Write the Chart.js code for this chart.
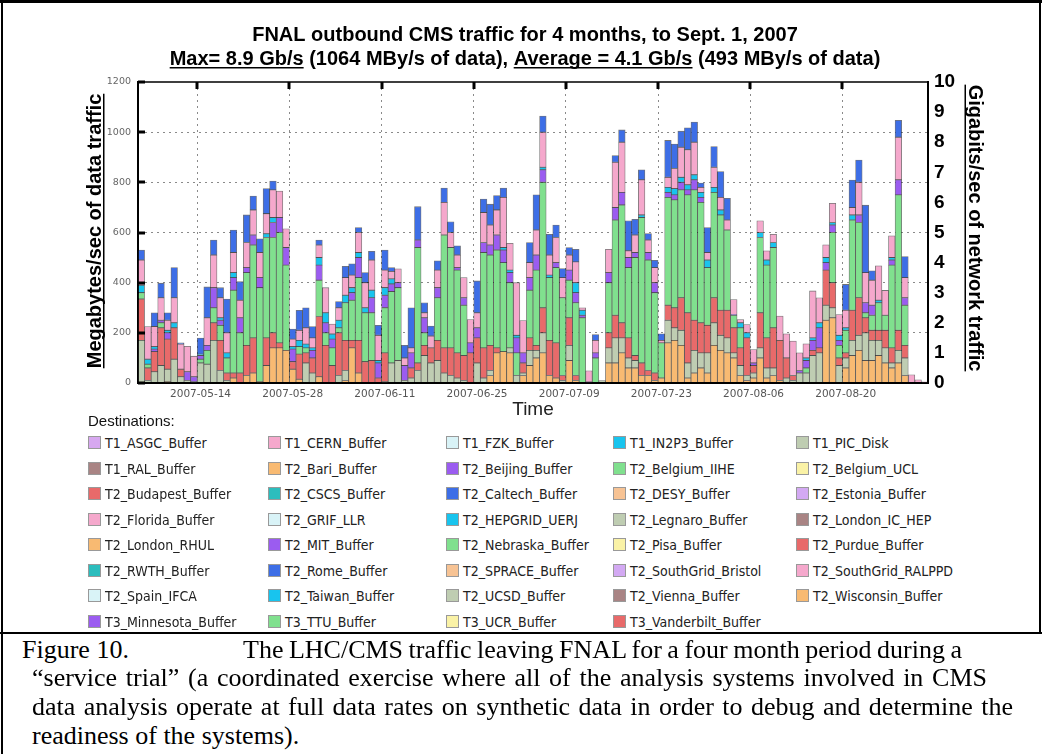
<!DOCTYPE html>
<html>
<head>
<meta charset="utf-8">
<script src="https://cdn.jsdelivr.net/npm/chart.js@4.4.0/dist/chart.umd.min.js"></script>
<style>
  body { margin: 0; background: #fff; width: 1042px; height: 754px; overflow: hidden; position: relative; }
  #traffic { position: absolute; left: 0; top: 0; }
  .line { position: absolute; background: #000; }
  #destTitle { position: absolute; left: 88px; top: 412px; font: 15px "Liberation Sans", Arial, sans-serif; color: #111; }
  .dest { position: absolute; font-family: "DejaVu Sans Condensed", "DejaVu Sans", sans-serif; font-stretch: condensed; font-size: 14px; color: #222; white-space: nowrap; line-height: 16px; }
  .dest i { display: inline-block; width: 11px; height: 11px; border: 1px solid #999; vertical-align: -1px; margin-right: 4px; }
  .cap { position: absolute; white-space: nowrap; font: 26px "Liberation Serif", "Times New Roman", serif; line-height: 29px; color: #000; }
</style>
</head>
<body>
<canvas id="traffic" width="1042" height="420"></canvas>
<div class="line" style="left:0;top:0;width:1042px;height:3px"></div>
<div class="line" style="left:1px;top:0;width:2px;height:754px"></div>
<div class="line" style="left:1039px;top:0;width:2px;height:633px"></div>
<div class="line" style="left:0;top:632px;width:1042px;height:2px"></div>
<div id="destTitle">Destinations:</div>
<div id="legend"></div>
<div class="cap" style="left:22px;top:635px">Figure 10.</div>
<div class="cap" style="left:243px;top:635px" data-end="962">The LHC/CMS traffic leaving FNAL for a four month period during a</div>
<div class="cap" style="left:32px;top:663px" data-end="987">&ldquo;service trial&rdquo; (a coordinated exercise where all of the analysis systems involved in CMS</div>
<div class="cap" style="left:32px;top:692px" data-end="1013">data analysis operate at full data rates on synthetic data in order to debug and determine the</div>
<div class="cap" style="left:32px;top:721px">readiness of the systems).</div>
<script>
// one bar per day, 2007-05-05 .. 2007-09-01, MB/s
var dayLabels = [];
for (var d = new Date(Date.UTC(2007, 4, 5)); dayLabels.length < 120; d.setUTCDate(d.getUTCDate() + 1)) {
    dayLabels.push(d.toISOString().slice(0, 10));
}
var tickDates = ['2007-05-14', '2007-05-28', '2007-06-11', '2007-06-25', '2007-07-09', '2007-07-23', '2007-08-06', '2007-08-20'];

var wisconsin = [0,0,0,0,5,0,0,0,0,0, 0,0,0,0,20,0,30,40,5,70, 140,140,130,55,15,0,0,25,0,0,
    0,10,140,40,0,0,0,0,0,0, 0,0,0,0,0,0,0,0,0,0, 0,0,0,30,120,125,120,0,30,70,
    100,120,30,20,0,90,10,0,0,0, 0,80,80,120,60,60,30,30,10,20, 160,170,150,20,40,60,40,150,130,120,
    100,30,10,20,100,20,30,10,0,0, 0,0,0,0,250,260,0,60,110,130, 90,90,110,80,60,80,30,0,0,0];
var ucsd = [170,10,45,70,50,95,25,10,5,80, 75,170,50,10,0,0,0,0,0,0, 0,0,0,0,0,80,40,0,0,0,
    30,40,0,0,0,0,0,5,80,90, 10,20,50,110,80,90,40,30,20,10, 0,80,20,20,0,0,20,30,10,60,
    30,80,0,0,10,60,0,0,0,0, 10,60,100,60,40,30,0,0,0,0, 90,50,60,60,90,60,80,90,60,60,
    20,40,20,20,40,40,30,0,20,10, 40,40,110,120,60,40,70,40,60,60, 110,80,60,60,20,50,70,0,0,0];
var purdue = [165,50,80,150,120,125,30,0,0,0, 0,70,120,30,20,40,120,140,0,110, 60,20,0,30,100,40,60,240,150,70,
    170,120,30,130,85,90,20,115,0,0, 0,40,30,40,60,80,100,110,100,100, 120,100,120,100,20,0,0,0,40,50,
    20,100,140,140,20,110,20,0,0,0, 0,60,90,60,80,20,50,20,30,0, 60,80,130,200,120,120,110,100,100,110,
    100,70,150,30,140,120,160,160,80,20, 0,0,20,20,140,100,30,20,120,150, 60,40,40,70,60,80,50,0,0,0];
var nebraska = [25,15,0,20,0,0,0,0,0,15, 55,60,60,60,330,160,290,370,375,400, 380,440,340,0,30,20,0,145,50,70,
    20,150,160,250,195,190,0,180,285,290, 0,0,460,50,0,170,450,400,330,200, 0,0,380,360,390,355,260,90,0,190,
    300,500,250,300,310,150,290,260,0,100, 0,200,380,470,280,390,580,440,320,140, 430,430,430,470,520,480,230,420,380,320,
    50,80,0,0,300,290,320,0,0,0, 0,20,0,0,0,200,50,90,360,300, 20,60,110,60,330,540,160,0,0,0];
var mit = [0,0,10,10,25,0,0,35,20,15, 20,80,20,0,50,60,20,40,40,0, 60,60,70,50,0,0,30,60,40,35,
    0,0,30,80,0,60,60,50,30,20, 60,60,30,60,0,40,0,0,10,30, 40,40,40,40,60,50,40,60,40,50,
    60,50,0,20,0,40,40,10,4,20, 0,40,50,50,40,20,0,30,40,0, 20,20,30,20,40,20,0,0,0,0,
    3,0,0,10,0,0,0,0,0,0, 10,30,40,80,30,30,20,0,0,30, 40,40,0,0,20,60,30,0,0,0];
var hepgrid = [30,20,10,0,10,20,0,0,0,5, 0,0,10,20,20,0,0,0,0,15, 20,0,0,10,25,15,10,30,40,20,
    30,30,20,20,20,30,10,30,20,0, 0,0,0,0,0,0,0,0,0,0, 0,0,0,0,0,10,10,10,0,0,
    0,10,10,0,0,0,40,20,0,0, 0,0,0,0,0,0,10,0,0,0, 20,25,20,20,20,20,30,20,20,0,
    0,20,20,0,20,20,20,0,0,0, 0,10,10,20,20,10,20,10,20,0, 0,0,10,0,10,0,0,0,0,0];
var florida = [100,130,80,90,40,100,100,101,82,0, 110,130,80,80,80,70,100,100,100,80, 110,105,75,30,40,65,40,50,100,40,
    50,70,50,80,100,120,100,70,30,55, 30,20,0,20,47,70,130,60,50,80, 93,60,120,80,100,200,107,210,129,60,
    100,140,80,100,80,60,83,10,45,50, 0,93,180,200,27,70,140,50,60,10, 40,80,120,140,130,20,30,80,50,40,
    60,13,33,53,47,37,33,97,96,137, 70,56,187,100,51,76,83,70,30,130, 120,100,137,99,87,170,80,33,13,5];
var caltech = [40,0,55,58,30,120,5,0,0,64, 123,60,40,135,90,74,110,55,55,100, 35,0,0,40,80,80,45,20,0,0,
    25,45,45,20,40,35,40,80,15,0, 50,160,133,40,40,37,57,43,37,0, 0,127,53,83,57,37,0,0,0,80,
    140,64,83,50,36,30,50,0,0,23, 0,0,27,49,120,63,40,26,29,26, 147,98,64,87,80,17,100,83,103,86,
    0,0,0,0,0,0,0,0,0,0, 0,0,0,0,0,0,0,103,109,89, 269,37,0,0,0,67,84,0,0,0];

// legend order (alphabetical, row by row) with the palette of the original plot
var destinations = ['T1_ASGC_Buffer','T1_CERN_Buffer','T1_FZK_Buffer','T1_IN2P3_Buffer','T1_PIC_Disk',
    'T1_RAL_Buffer','T2_Bari_Buffer','T2_Beijing_Buffer','T2_Belgium_IIHE','T2_Belgium_UCL',
    'T2_Budapest_Buffer','T2_CSCS_Buffer','T2_Caltech_Buffer','T2_DESY_Buffer','T2_Estonia_Buffer',
    'T2_Florida_Buffer','T2_GRIF_LLR','T2_HEPGRID_UERJ','T2_Legnaro_Buffer','T2_London_IC_HEP',
    'T2_London_RHUL','T2_MIT_Buffer','T2_Nebraska_Buffer','T2_Pisa_Buffer','T2_Purdue_Buffer',
    'T2_RWTH_Buffer','T2_Rome_Buffer','T2_SPRACE_Buffer','T2_SouthGrid_Bristol','T2_SouthGrid_RALPPD',
    'T2_Spain_IFCA','T2_Taiwan_Buffer','T2_UCSD_Buffer','T2_Vienna_Buffer','T2_Wisconsin_Buffer',
    'T3_Minnesota_Buffer','T3_TTU_Buffer','T3_UCR_Buffer','T3_Vanderbilt_Buffer'];
var destColors = ['#d7a8f0','#f5a8cc','#d9f3f7','#18c4ee','#bfcdb2',
    '#a98484','#f8ba72','#9b5cf0','#80e08e','#faf2a6',
    '#e86a6a','#2cbdbd','#3d6ee6','#f7c394','#d3a9f3',
    '#f5a8cc','#d9f3f7','#18c4ee','#bfcdb2','#a98484',
    '#f8ba72','#9b5cf0','#80e08e','#faf2a6','#e86a6a',
    '#2cbdbd','#3d6ee6','#f7c394','#d3a9f3','#f5a8cc',
    '#d9f3f7','#18c4ee','#bfcdb2','#a98484','#f8ba72',
    '#9b5cf0','#80e08e','#faf2a6','#e86a6a'];

// bottom-to-top stacking of the destinations that carried traffic
var stackOrder = [
    ['T2_Wisconsin_Buffer', wisconsin],
    ['T2_UCSD_Buffer', ucsd],
    ['T2_Purdue_Buffer', purdue],
    ['T2_Nebraska_Buffer', nebraska],
    ['T2_MIT_Buffer', mit],
    ['T2_HEPGRID_UERJ', hepgrid],
    ['T2_Florida_Buffer', florida],
    ['T2_Caltech_Buffer', caltech]
];

var datasets = [];
var used = {};
stackOrder.forEach(function(s) {
    used[s[0]] = true;
    datasets.push({ label: s[0], data: s[1] });
});
destinations.forEach(function(name) {
    if (!used[name]) datasets.push({ label: name, data: [] });
});
datasets.forEach(function(ds) {
    ds.backgroundColor = destColors[destinations.indexOf(ds.label)];
    ds.borderColor = 'rgba(0,0,0,0.55)';
    ds.borderWidth = 0.8;
    ds.borderSkipped = false;
    ds.barPercentage = 1.0;
    ds.categoryPercentage = 1.0;
    ds.yAxisID = 'y';
});

// html legend, 5 columns
var colX = [88, 268, 446, 613, 796];
var legendBox = document.getElementById('legend');
destinations.forEach(function(name, i) {
    var el = document.createElement('div');
    el.className = 'dest';
    el.style.left = colX[i % 5] + 'px';
    el.style.top = (435 + Math.floor(i / 5) * 25.5) + 'px';
    el.innerHTML = '<i style="background:' + destColors[i] + '"></i>' + name;
    legendBox.appendChild(el);
});

// caption lines are justified to the widths of the printed page
document.querySelectorAll('.cap[data-end]').forEach(function(el) {
    var left = parseFloat(el.style.left);
    var natural = el.getBoundingClientRect().width;
    var spaces = (el.textContent.match(/ /g) || []).length;
    el.style.wordSpacing = ((+el.getAttribute('data-end') - left - natural) / spaces) + 'px';
});

var decor = {
    id: 'decor',
    afterDraw: function(chart) {
        var ctx = chart.ctx, a = chart.chartArea;
        var xs = chart.scales.x, ys = chart.scales.y;
        ctx.save();
        ctx.strokeStyle = '#000';
        ctx.lineWidth = 1.5;
        ctx.strokeRect(a.left, a.top, a.right - a.left, a.bottom - a.top);

        // heavy tick marks inside the frame
        ctx.lineWidth = 3;
        var half = (xs.getPixelForValue(1) - xs.getPixelForValue(0)) / 2;
        tickDates.forEach(function(t) {
            var px = Math.round(xs.getPixelForValue(dayLabels.indexOf(t)) - half);
            ctx.beginPath(); ctx.moveTo(px, a.top); ctx.lineTo(px, a.top + 7); ctx.stroke();
        });
        ys.ticks.forEach(function(t) {
            var py = Math.round(ys.getPixelForValue(t.value));
            ctx.beginPath(); ctx.moveTo(a.left, py); ctx.lineTo(a.left + 7, py); ctx.stroke();
        });

        ctx.fillStyle = '#000';
        ctx.textBaseline = 'alphabetic';
        ctx.font = 'bold 20px "Liberation Sans", Arial, sans-serif';
        ctx.textAlign = 'center';
        ctx.fillText('FNAL outbound CMS traffic for 4 months, to Sept. 1, 2007', 525, 41);

        var parts = [['Max= 8.9 Gb/s', true], [' (1064 MBy/s of data), ', false],
                     ['Average = 4.1 Gb/s', true], [' (493 MBy/s of data)', false]];
        var total = 0;
        parts.forEach(function(p) { total += ctx.measureText(p[0]).width; });
        var x = 525 - total / 2;
        ctx.textAlign = 'left';
        parts.forEach(function(p) {
            var w = ctx.measureText(p[0]).width;
            ctx.fillText(p[0], x, 65);
            if (p[1]) ctx.fillRect(x, 67, w, 1.5);
            x += w;
        });

        function vertical(text, cx, cy, angle) {
            ctx.save();
            ctx.translate(cx, cy);
            ctx.rotate(angle);
            ctx.textAlign = 'center';
            ctx.fillText(text, 0, 6);
            var w = ctx.measureText(text).width;
            ctx.fillRect(-w / 2, 8.5, w, 1.5);
            ctx.restore();
        }
        vertical('Megabytes/sec of data traffic', 94.5, 231, -Math.PI / 2);
        vertical('Gigabits/sec of network traffic', 974.5, 228, Math.PI / 2);

        ctx.font = '19px "Liberation Sans", Arial, sans-serif';
        ctx.fillStyle = '#222';
        ctx.textAlign = 'center';
        ctx.fillText('Time', (a.left + a.right) / 2, 415);
        ctx.restore();
    }
};

new Chart(document.getElementById('traffic').getContext('2d'), {
    type: 'bar',
    data: { labels: dayLabels, datasets: datasets },
    options: {
        responsive: false,
        animation: false,
        layout: { padding: { top: 82, left: 0, right: 0, bottom: 0 } },
        plugins: { legend: { display: false }, title: { display: false }, tooltip: { enabled: false } },
        scales: {
            x: {
                stacked: true,
                offset: true,
                grid: {
                    offset: true,
                    drawTicks: false,
                    lineWidth: 1,
                    color: function(c) { return tickDates.indexOf(dayLabels[c.index]) >= 0 ? '#8a8a8a' : 'rgba(0,0,0,0)'; }
                },
                border: { color: '#000', width: 2, dash: [2, 4] },
                ticks: {
                    autoSkip: false, maxRotation: 0, minRotation: 0, padding: 5,
                    color: '#555', font: { family: 'DejaVu Sans', size: 10.5 },
                    callback: function(v, i) { return tickDates.indexOf(dayLabels[i]) >= 0 ? dayLabels[i] : ''; }
                },
                afterFit: function(s) { s.height = 37; }
            },
            y: {
                stacked: true,
                position: 'left',
                min: 0, max: 1200,
                grid: {
                    drawTicks: false,
                    color: function(c) { return c.tick && c.tick.value > 0 && c.tick.value < 1200 ? '#8a8a8a' : 'rgba(0,0,0,0)'; }
                },
                border: { color: '#000', width: 2, dash: [2, 4] },
                ticks: {
                    stepSize: 200, padding: 7, color: '#666', font: { family: 'DejaVu Sans', size: 9.5 },
                    callback: function(v) { return String(v); }
                },
                afterFit: function(s) { s.width = 138; }
            },
            y2: {
                position: 'right',
                min: 0, max: 10,
                grid: { drawOnChartArea: false, drawTicks: false },
                border: { color: '#000', width: 2 },
                ticks: { stepSize: 1, padding: 6, color: '#000', font: { family: 'Liberation Sans', size: 19, weight: 'bold' } },
                afterFit: function(s) { s.width = 1042 - 928; }
            }
        }
    },
    plugins: [decor]
});
</script>
</body>
</html>
